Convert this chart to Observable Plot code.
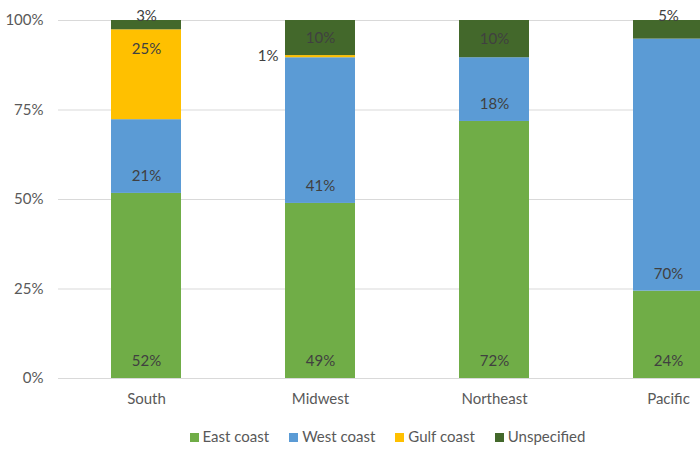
<!DOCTYPE html>
<html>
<head>
<meta charset="utf-8">
<script src="https://cdn.jsdelivr.net/npm/d3@7"></script>
<script src="https://cdn.jsdelivr.net/npm/@observablehq/plot@0.6"></script>
<style>
  html, body { margin: 0; padding: 0; background: #fff; overflow: hidden; width: 700px; height: 449px; }
  #chart svg { overflow: hidden; display: block; }
  .legend { height: 29px; line-height: 20px; margin-top: 6px; padding-left: 75px; text-align: center; font-family: Lato, sans-serif; font-size: 15px; color: #595959; white-space: nowrap; }
  .legend span.item { display: inline-block; margin: 0 10px; }
  .legend span.sw { display: inline-block; width: 9px; height: 9px; margin-right: 4px; vertical-align: 0px; }
</style>
</head>
<body>
<div id="chart"></div>
<div class="legend" id="legend"></div>
<script>
const regions = ["South", "Midwest", "Northeast", "Pacific"];
const seriesNames = ["East coast", "West coast", "Gulf coast", "Unspecified"];
const eastCoast = [51.7, 48.9, 71.8, 24.4];
const westCoast = [20.6, 40.7, 17.8, 70.4];
const gulfCoast = [25.1, 0.6, 0, 0];
const unspecified = [2.6, 9.8, 10.4, 5.2];
const yTicks = [0, 25, 50, 75, 100];
const colors = ["#70AD47", "#5B9BD5", "#FFC000", "#43682B"];

const seriesValues = [eastCoast, westCoast, gulfCoast, unspecified];
const rows = [];
regions.forEach((r, i) => {
  seriesNames.forEach((s, j) => {
    rows.push({region: r, series: s, value: seriesValues[j][i]});
  });
});
const lbl = d => Math.round(d.value) + "%";
const isBase = d => d.series === "East coast" || d.series === "West coast";
const isGulfTop = d => d.series === "Gulf coast" && d.value >= 2;
const isGulfSmall = d => d.series === "Gulf coast" && d.value > 0 && d.value < 2;
const isUnspecMid = d => d.series === "Unspecified" && d.value >= 6;
const isUnspecSmall = d => d.series === "Unspecified" && d.value > 0 && d.value < 6;

const font = "Lato, sans-serif";
const labelColor = "#404040";
const txt = (test, stack, extra) => Plot.text(rows, stack({
  x: "region", y: "value",
  text: d => test(d) ? lbl(d) : "",
  fill: labelColor, fontSize: 15, ...extra
}));

const chart = Plot.plot({
  width: 700,
  height: 420,
  marginTop: 20,
  marginBottom: 42,
  marginLeft: 58,
  marginRight: 0,
  style: {fontFamily: font, fontSize: "15px", color: "#595959", background: "#fff"},
  x: {type: "band", domain: regions, range: [57.65, 755.65], paddingInner: 0.6, paddingOuter: 0.3, align: 0.5, label: null},
  y: {domain: [0, 100], label: null},
  color: {domain: seriesNames, range: colors},
  marks: [
    Plot.ruleY(yTicks, {stroke: "#d9d9d9", strokeWidth: 1}),
    Plot.barY(rows, {x: "region", y: "value", fill: "series"}),
    Plot.axisY({ticks: yTicks, tickFormat: d => d + "%", tickSize: 0, tickPadding: 15, fill: "#595959", fontSize: 15, label: null}),
    Plot.axisX({tickSize: 0, tickPadding: 15, fill: "#595959", fontSize: 15, label: null}),
    txt(isBase, Plot.stackY1, {dy: -17}),
    txt(isGulfTop, Plot.stackY2, {dy: 19}),
    txt(isGulfSmall, Plot.stackY, {dx: -42, textAnchor: "end"}),
    txt(isUnspecMid, Plot.stackY, {}),
    txt(isUnspecSmall, Plot.stackY2, {dy: -4})
  ]
});
document.getElementById("chart").appendChild(chart);

const legend = document.getElementById("legend");
seriesNames.forEach((s, i) => {
  const item = document.createElement("span");
  item.className = "item";
  const sw = document.createElement("span");
  sw.className = "sw";
  sw.style.background = colors[i];
  item.appendChild(sw);
  item.appendChild(document.createTextNode(s));
  legend.appendChild(item);
});
</script>
</body>
</html>
